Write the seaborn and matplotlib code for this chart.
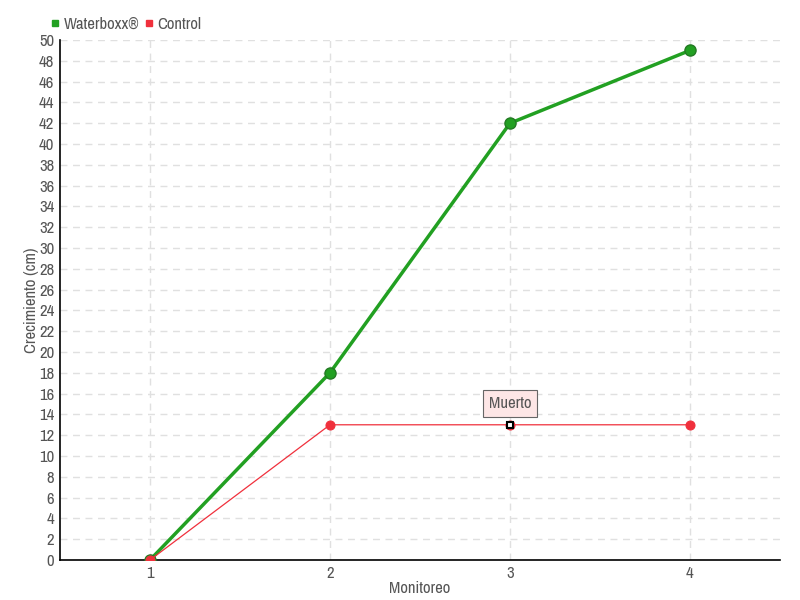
import matplotlib
matplotlib.use("Agg")
import matplotlib.pyplot as plt
import seaborn as sns
import pandas as pd
from matplotlib.lines import Line2D
from matplotlib import font_manager

monitoreo = [1, 2, 3, 4]
waterboxx = [0, 18, 42, 49]
control = [0, 13, 13, 13]
series_names = ["Waterboxx®", "Control"]
y_ticks = list(range(0, 51, 2))
dead_index = 2  # Control point at Monitoreo 3 labelled "Muerto"

sns.set_theme(style="white")
names = sorted({f.name for f in font_manager.fontManager.ttflist})
narrow = [n for n in names if "Narrow" in n or "Condensed" in n]
fam = narrow[0] if narrow else "DejaVu Sans"
plt.rcParams['font.family'] = [fam, 'DejaVu Sans']
fs = 12 if narrow else 10

df = pd.DataFrame({
    "Monitoreo": monitoreo * 2,
    "Crecimiento": waterboxx + control,
    "Serie": [series_names[0]] * 4 + [series_names[1]] * 4,
})

fig = plt.figure(figsize=(8, 6), dpi=100)
ax = fig.add_axes([0.075, 0.0667, 0.9, 0.8666])

green = "#22a022"
red = "#f0303c"
text_c = "#555555"

dfw = df[df.Serie == series_names[0]]
dfc = df[df.Serie == series_names[1]]

sns.lineplot(data=dfw, x="Monitoreo", y="Crecimiento", ax=ax, color=green,
             linewidth=2.5, marker="o", markersize=8, markeredgecolor="#237a23",
             markeredgewidth=1, zorder=3, legend=False)
sns.lineplot(data=dfc, x="Monitoreo", y="Crecimiento", ax=ax, color=red,
             linewidth=0.9, marker="o", markersize=6.5, markeredgecolor=red,
             zorder=4, legend=False)
ax.plot([monitoreo[dead_index]], [control[dead_index]], marker="s", markersize=5,
        markerfacecolor="white", markeredgecolor="black", markeredgewidth=1.5,
        linestyle="none", zorder=6)
ax.annotate("Muerto", xy=(monitoreo[dead_index], control[dead_index]),
            xytext=(0, 15.5), textcoords="offset points", ha="center", va="center",
            fontsize=fs, color=text_c,
            bbox=dict(boxstyle="square,pad=0.35", fc="#fde6e6", ec="#666666", lw=0.8),
            zorder=7)

ax.set_xlim(0.5, 4.5)
ax.set_ylim(0, 50)
ax.set_xticks(monitoreo)
ax.set_yticks(y_ticks)
ax.set_xlabel("Monitoreo", color=text_c, fontsize=fs, labelpad=0)
ax.set_ylabel("Crecimiento (cm)", color=text_c, fontsize=fs, labelpad=0)
ax.tick_params(axis="both", colors="black", labelcolor=text_c, labelsize=fs,
               direction="inout", length=6, width=1, pad=1)
ax.grid(True, linestyle=(0, (5, 4)), color="#e0e0e0", linewidth=1)
for s in ["top", "right"]:
    ax.spines[s].set_visible(False)
for s in ["left", "bottom"]:
    ax.spines[s].set_color("black")
    ax.spines[s].set_linewidth(1.2)

handles = [Line2D([], [], marker="s", color=green, linestyle="none", markersize=5),
           Line2D([], [], marker="s", color=red, linestyle="none", markersize=5)]
fig.legend(handles, series_names, loc="upper left", bbox_to_anchor=(0.04, 0.997),
           ncol=2, frameon=False, fontsize=fs, handletextpad=0.0, columnspacing=0.1,
           labelcolor=text_c, handlelength=1.0)

fig.savefig("out.png", dpi=100)
